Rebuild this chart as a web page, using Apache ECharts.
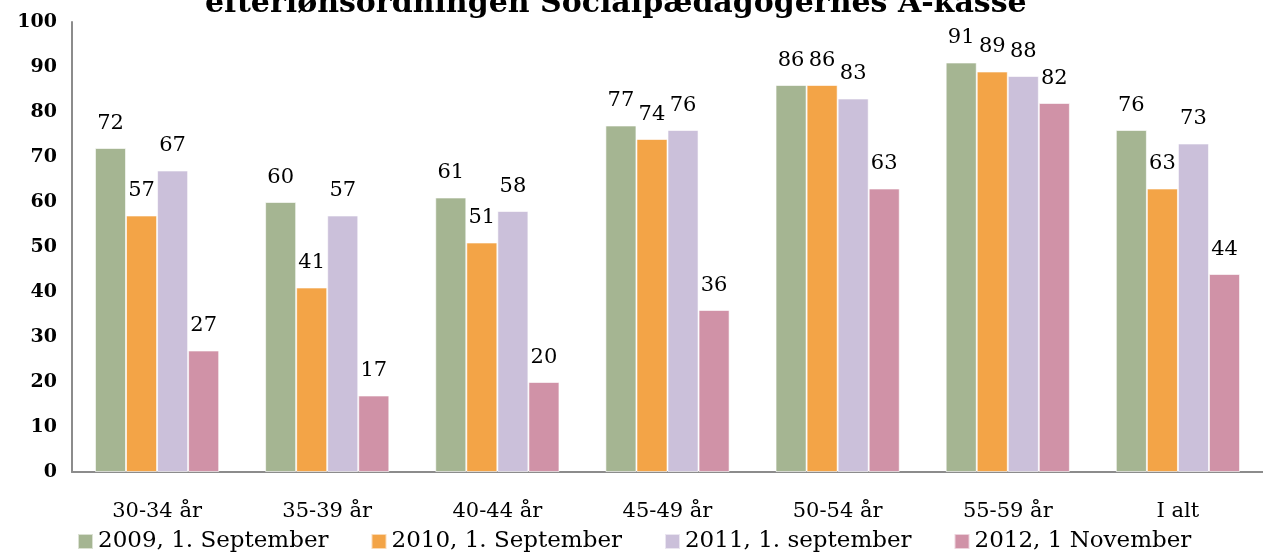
<!DOCTYPE html>
<html>
<head>
<meta charset="utf-8">
<script src="https://cdn.jsdelivr.net/npm/echarts@6/dist/echarts.min.js"></script>
<style>
  html, body { margin: 0; padding: 0; background: #fff; }
  #main { width: 1263px; height: 556px; }
</style>
</head>
<body>
<div id="main"></div>
<script>
// data
var categories = ['30-34 år', '35-39 år', '40-44 år', '45-49 år', '50-54 år', '55-59 år', 'I alt'];
var seriesNames = ['2009, 1. September', '2010, 1. September', '2011, 1. september', '2012, 1 November'];
var values2009 = [72, 60, 61, 77, 86, 91, 76];
var values2010 = [57, 41, 51, 74, 86, 89, 63];
var values2011 = [67, 57, 58, 76, 83, 88, 73];
var values2012 = [27, 17, 20, 36, 63, 82, 44];
var colors = ['#A5B592', '#F3A447', '#CBC0DA', '#D092A7'];

var font = '"DejaVu Serif", "Liberation Serif", serif';

var myChart = echarts.init(document.getElementById('main'));

function makeSeries(name, data, color) {
  return {
    name: name,
    type: 'bar',
    data: data,
    barGap: '0%',
    barCategoryGap: '27%',
    itemStyle: { color: color, borderColor: 'rgba(255,255,255,0.6)', borderWidth: 1 },
    label: {
      show: true,
      position: 'top',
      distance: 14,
      fontFamily: font,
      fontSize: 21,
      color: '#000'
    }
  };
}

var option = {
  animation: false,
  // title sits partly above the top edge, as in the source picture
  title: {
    text: 'efterlønsordningen Socialpædagogernes A-kasse',
    left: 200,
    top: -16,
    textStyle: { fontFamily: font, fontSize: 30, fontWeight: 'bold', color: '#000' }
  },
  legend: {
    left: 72,
    bottom: -2,
    itemWidth: 15,
    itemHeight: 15,
    itemGap: 42,
    icon: 'rect',
    textStyle: { fontFamily: font, fontSize: 23, color: '#000' },
    data: seriesNames
  },
  grid: { left: 72, right: 0, top: 22, bottom: 84, containLabel: false },
  xAxis: {
    type: 'category',
    data: categories,
    axisLine: { lineStyle: { color: '#8c8c8c', width: 2 } },
    axisTick: { show: false },
    axisLabel: { margin: 29, fontFamily: font, fontSize: 21, color: '#000' }
  },
  yAxis: {
    type: 'value',
    min: 0,
    max: 100,
    interval: 10,
    axisLine: { show: true, lineStyle: { color: '#8c8c8c', width: 2 } },
    axisTick: { show: false },
    splitLine: { show: false },
    axisLabel: { margin: 15, fontFamily: font, fontSize: 19, fontWeight: 'bold', color: '#000' }
  },
  series: [
    makeSeries(seriesNames[0], values2009, colors[0]),
    makeSeries(seriesNames[1], values2010, colors[1]),
    makeSeries(seriesNames[2], values2011, colors[2]),
    makeSeries(seriesNames[3], values2012, colors[3])
  ]
};

myChart.setOption(option);
</script>
</body>
</html>
